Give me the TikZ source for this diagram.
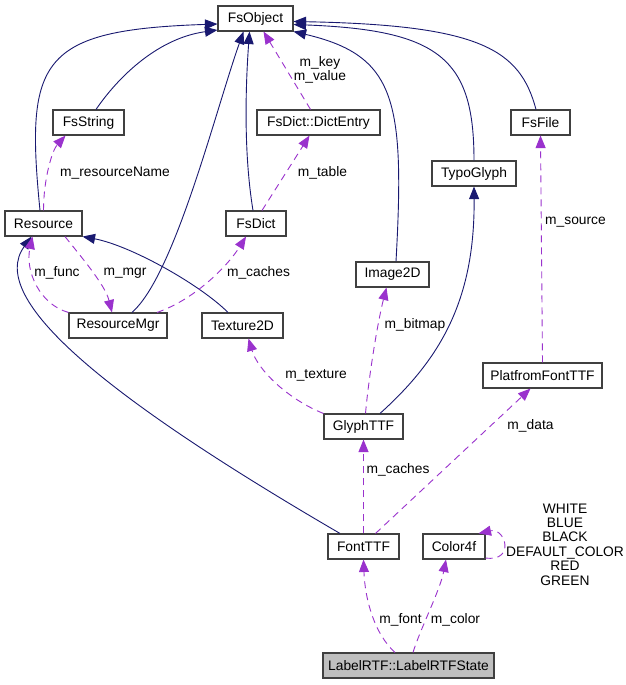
\documentclass[tikz,border=0pt]{standalone}
\usepackage{fontspec}
\setmainfont{Liberation Sans}
\usepackage{xcolor}
\usepackage{tikz}
\usetikzlibrary{arrows.meta}
\definecolor{inhc}{HTML}{191970}
\definecolor{usec}{HTML}{9A32CD}
\tikzset{
  cls/.style={draw=black!75,line width=1.1pt,rectangle,minimum height=25pt,inner sep=0pt,fill=white},
  inh/.style={draw=inhc,line width=0.9pt,-{Triangle[length=12.5pt,width=10pt]}},
  use/.style={draw=usec,line width=0.9pt,dash pattern=on 7pt off 5pt,-{Triangle[length=12.5pt,width=10pt]}},
  lbl/.style={inner sep=0pt,align=center}
}

\begin{document}
\begin{tikzpicture}[x=1pt,y=-1pt,font=\fontsize{13.8}{14.4}\selectfont]
\fill[white] (0,0) rectangle (626,685); \useasboundingbox (0,0) rectangle (626,685);
\node[cls,minimum width=75pt] (fsobj) at (255.5,18.5) {FsObject};
\node[cls,minimum width=71pt] (fsstr) at (88.5,122.5) {FsString};
\node[cls,minimum width=123pt] (entry) at (318.5,122.5) {FsDict::DictEntry};
\node[cls,minimum width=59pt] (fsfile) at (540.5,122.5) {FsFile};
\node[cls,minimum width=84pt] (typo) at (474,173.5) {TypoGlyph};
\node[cls,minimum width=77pt] (res) at (43.5,223.5) {Resource};
\node[cls,minimum width=60pt] (fsdict) at (256,223.5) {FsDict};
\node[cls,minimum width=73pt] (img) at (392.5,274.5) {Image2D};
\node[cls,minimum width=98pt] (resmgr) at (118,325.5) {ResourceMgr};
\node[cls,minimum width=81pt] (tex) at (242.5,325.5) {Texture2D};
\node[cls,minimum width=119pt] (pfont) at (542.5,375.5) {PlatfromFontTTF};
\node[cls,minimum width=79pt] (glyph) at (363.5,426.5) {GlyphTTF};
\node[cls,minimum width=71pt] (font) at (363.5,546.5) {FontTTF};
\node[cls,minimum width=62pt] (color) at (454,546.5) {Color4f};
\node[cls,minimum width=171pt,fill=black!25] (state) at (408.5,665.5) {LabelRTF::LabelRTFState};
\draw[inh] ([xshift=-3.5pt]res.north) .. controls +(-15,-151) and +(-178,6) .. ([yshift=-5.5pt]fsobj.west);
\draw[inh] ([xshift=7.5pt]fsstr.north) .. controls +(24,-35) and +(-58,8) .. ([yshift=-11.5pt]fsobj.west);
\draw[inh] ([xshift=14pt]resmgr.north) .. controls +(43,-38) and +(-28,79) .. ([xshift=-12pt]fsobj.south);
\draw[inh] ([xshift=-3pt]fsdict.north) .. controls +(-10,-61) and +(-3.5,49) .. ([xshift=-6pt]fsobj.south);
\draw[inh] ([xshift=3.5pt]img.north) .. controls +(9,-162) and +(102,24) .. (fsobj.south east);
\draw[inh] (typo.north) .. controls +(0,-101) and +(147,5.5) .. ([yshift=-6pt]fsobj.east);
\draw[inh] ([xshift=-4.5pt]fsfile.north) .. controls +(-16,-60) and +(187,3.5) .. ([yshift=-3pt]fsobj.east);
\draw[inh] ([xshift=-14.5pt]tex.north) .. controls +(-28,-28) and +(48,9) .. (res.south east);
\draw[inh] ([xshift=-23.5pt]font.north) .. controls +(-230,-134) and +(-46,63) .. ([xshift=-12pt]res.south);
\draw[inh] ([xshift=16.5pt]glyph.north) .. controls +(60,-54) and +(1,114) .. (typo.south);
\draw[use] ([xshift=-8pt]entry.north) -- ([xshift=8pt]fsobj.south);
\draw[use] (res.north) .. controls +(0,-31) and +(-13.5,15) .. ([xshift=-23pt]fsstr.south);
\draw[use] ([xshift=6pt]fsdict.north) -- ([xshift=-9pt]entry.south);
\draw[use] (pfont.north) -- (fsfile.south);
\draw[use] (resmgr.north west) .. controls +(-29,-8) and +(-7.5,34) .. ([xshift=-11pt]res.south);
\draw[use] ([xshift=21.5pt]res.south) .. controls +(15,19) and +(-7,-28) .. ([xshift=-6pt]resmgr.north);
\draw[use] ([xshift=39pt]resmgr.north) .. controls +(38,-13) and +(-18,29) .. ([xshift=-10pt]fsdict.south);
\draw[use] ([xshift=2pt]glyph.north) .. controls +(3.5,-39) and +(-8.5,33) .. ([xshift=-6pt]img.south);
\draw[use] (glyph.north west) .. controls +(-35,-14) and +(9.5,32) .. ([xshift=6pt]tex.south);
\draw[use] ([xshift=12pt]font.north) -- ([xshift=-12pt]pfont.south);
\draw[use] (font.north) -- (glyph.south);
\draw[use] ([yshift=-11.5pt]color.east) .. controls +(30,4) and +(27,-6) .. ([xshift=-7pt]color.north east);
\draw[use] ([xshift=-13.5pt]state.north) .. controls +(-20,-18) and +(1.5,41) .. (font.south);
\draw[use] ([xshift=4.5pt]state.north) .. controls +(7,-23) and +(-6,31) .. ([xshift=-8pt]color.south);
\node[lbl] (lkey) at (320,70) {m\_key\\m\_value};
\node[lbl] (lresname) at (115,173) {m\_resourceName};
\node[lbl] (ltable) at (322.5,173) {m\_table};
\node[lbl] (lsource) at (575.5,222) {m\_source};
\node[lbl] (lfunc) at (57,273) {m\_func};
\node[lbl] (lmgr) at (125,273) {m\_mgr};
\node[lbl] (lcaches) at (258.5,273) {m\_caches};
\node[lbl] (lbitmap) at (415,325) {m\_bitmap};
\node[lbl] (ltexture) at (316,375) {m\_texture};
\node[lbl] (ldata) at (530.5,426) {m\_data};
\node[lbl] (lglyphs) at (398,470) {m\_caches};
\node[lbl] (lcolors) at (565,544.5) {WHITE\\BLUE\\BLACK\\DEFAULT\_COLOR\\RED\\GREEN};
\node[lbl] (lfont) at (400.5,620) {m\_font};
\node[lbl] (lcolor) at (455.5,620) {m\_color};
\end{tikzpicture}
\end{document}
